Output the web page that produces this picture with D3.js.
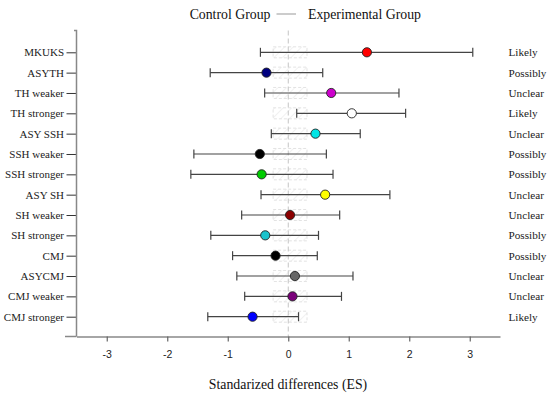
<!DOCTYPE html>
<html><head><meta charset="utf-8">
<script src="https://cdn.jsdelivr.net/npm/d3@7"></script>
<style>body{margin:0;background:#fff}svg{display:block}.serif{font-family:'Liberation Serif','Times New Roman',serif}</style>
</head><body><svg id="c" width="550" height="396"></svg>
<script>
const categories = ["MKUKS","ASYTH","TH weaker","TH stronger","ASY SSH","SSH weaker","SSH stronger","ASY SH","SH weaker","SH stronger","CMJ","ASYCMJ","CMJ weaker","CMJ stronger"];
const estimates = [1.30,-0.36,0.71,1.05,0.45,-0.47,-0.44,0.61,0.03,-0.38,-0.21,0.11,0.07,-0.59];
const lowers = [-0.46,-1.29,-0.39,0.14,-0.28,-1.56,-1.61,-0.45,-0.77,-1.28,-0.92,-0.85,-0.72,-1.33];
const uppers = [3.05,0.57,1.83,1.94,1.19,0.63,0.74,1.68,0.85,0.50,0.48,1.07,0.88,0.17];
const inferences = ["Likely","Possibly","Unclear","Likely","Unclear","Possibly","Possibly","Unclear","Unclear","Possibly","Possibly","Unclear","Unclear","Likely"];
const dotColors = ["#ff0000","#000080","#cc00cc","#ffffff","#00e5e5","#000000","#00cc00","#ffff00","#8b0000","#1cc3cc","#000000","#666666","#7a007a","#0000ff"];
const xTicks = [-3,-2,-1,0,1,2,3];
const trivial = [-0.25,0.31];

const svg = d3.select("#c");
const x = d3.scaleLinear().domain([-3.5,3.5]).range([76.5,500]);
const y = d3.scalePoint().domain(categories).range([52.3,316.7]);
const axisY = 336.5, topY = 30.5;

const defs = svg.append("defs");
const pat = defs.append("pattern").attr("id","hatch").attr("patternUnits","userSpaceOnUse").attr("width",6).attr("height",6).attr("patternTransform","rotate(45)");
pat.append("line").attr("x1",0).attr("y1",0).attr("x2",0).attr("y2",6).attr("stroke","#e4e4e4").attr("stroke-width",1);

// trivial boxes
svg.append("g").selectAll("rect").data(categories).join("rect")
  .attr("x",x(trivial[0])).attr("width",x(trivial[1])-x(trivial[0]))
  .attr("y",d=>y(d)-5.5).attr("height",11)
  .attr("fill","url(#hatch)").attr("stroke","#dcdcdc").attr("stroke-dasharray","3,2").attr("stroke-width",0.8);

// zero line
svg.append("line").attr("x1",x(0)).attr("x2",x(0)).attr("y1",topY).attr("y2",axisY)
  .attr("stroke","#c4c4c4").attr("stroke-dasharray","5,3").attr("stroke-width",1);

// x axis
const gx = svg.append("g").attr("transform",`translate(0,${axisY})`)
  .call(d3.axisBottom(x).tickValues(xTicks).tickSize(5).tickSizeOuter(0).tickFormat(d=>String(d)));
gx.select(".domain").attr("stroke","#888").attr("stroke-width",1.5);
gx.selectAll(".tick line").attr("stroke","#666").attr("stroke-width",1.2);
gx.selectAll(".tick text").attr("font-family","'Liberation Sans', Arial, sans-serif").attr("font-size","10.5px").attr("fill","#222").attr("dy","1.25em");
svg.append("line").attr("x1",65).attr("x2",x(-3.5)).attr("y1",axisY).attr("y2",axisY).attr("stroke","#888").attr("stroke-width",1.5);

// y axis
const gy = svg.append("g").attr("transform",`translate(${x(-3.5)},0)`)
  .call(d3.axisLeft(y).tickSize(10).tickSizeOuter(0));
gy.select(".domain").remove();
gy.selectAll(".tick line").attr("stroke","#333").attr("stroke-width",1);
gy.selectAll(".tick text").attr("class","serif").attr("font-family",null).attr("font-size","11px").attr("fill","#222").attr("x",-12.5);
svg.append("path").attr("d",`M${x(-3.5)-2.5},${topY}H${x(-3.5)}V${axisY}`).attr("fill","none").attr("stroke","#888").attr("stroke-width",1.5);

// error bars
const rows = svg.append("g").selectAll("g").data(categories).join("g");
rows.append("line").attr("x1",(d,i)=>x(lowers[i])).attr("x2",(d,i)=>x(uppers[i]))
  .attr("y1",d=>y(d)).attr("y2",d=>y(d)).attr("stroke","#444").attr("stroke-width",1.2);
rows.append("line").attr("x1",(d,i)=>x(lowers[i])).attr("x2",(d,i)=>x(lowers[i]))
  .attr("y1",d=>y(d)-4.5).attr("y2",d=>y(d)+4.5).attr("stroke","#444").attr("stroke-width",1.2);
rows.append("line").attr("x1",(d,i)=>x(uppers[i])).attr("x2",(d,i)=>x(uppers[i]))
  .attr("y1",d=>y(d)-4.5).attr("y2",d=>y(d)+4.5).attr("stroke","#444").attr("stroke-width",1.2);
rows.append("circle").attr("cx",(d,i)=>x(estimates[i])).attr("cy",d=>y(d)).attr("r",4.6)
  .attr("fill",(d,i)=>dotColors[i]).attr("stroke","#222").attr("stroke-width",0.9);

// inferences
svg.append("g").selectAll("text").data(categories).join("text")
  .attr("class","serif").attr("x",508.5).attr("y",d=>y(d)).attr("dy","0.35em")
  .attr("font-size","11.2px").attr("fill","#222")
  .text((d,i)=>inferences[i]);

// legend
const lg = svg.append("g").attr("class","serif").attr("font-size","13.8px").attr("fill","#111");
lg.append("text").attr("x",270.5).attr("y",18.5).attr("text-anchor","end").text("Control Group");
lg.append("line").attr("x1",276.5).attr("x2",296).attr("y1",14).attr("y2",14).attr("stroke","#999").attr("stroke-width",1);
lg.append("text").attr("x",308).attr("y",18.5).text("Experimental Group");

// x title
svg.append("text").attr("class","serif").attr("x",288).attr("y",388.5).attr("text-anchor","middle")
  .attr("font-size","13.8px").attr("fill","#111")
  .text("Standarized differences (ES)");
</script></body></html>
